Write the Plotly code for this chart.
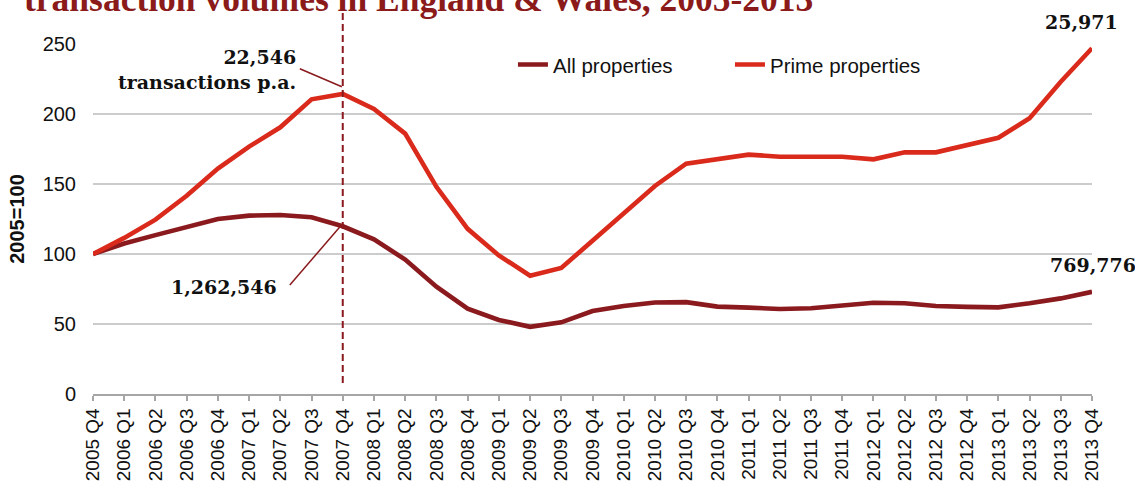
import plotly.graph_objects as go

# ---------------- data ----------------
quarters = [
    "2005 Q4", "2006 Q1", "2006 Q2", "2006 Q3", "2006 Q4",
    "2007 Q1", "2007 Q2", "2007 Q3", "2007 Q4",
    "2008 Q1", "2008 Q2", "2008 Q3", "2008 Q4",
    "2009 Q1", "2009 Q2", "2009 Q3", "2009 Q4",
    "2010 Q1", "2010 Q2", "2010 Q3", "2010 Q4",
    "2011 Q1", "2011 Q2", "2011 Q3", "2011 Q4",
    "2012 Q1", "2012 Q2", "2012 Q3", "2012 Q4",
    "2013 Q1", "2013 Q2", "2013 Q3", "2013 Q4",
]
all_properties = [
    100, 107.5, 113.5, 119.5, 125,
    127.4, 127.9, 126.2, 119.8,
    110.5, 96, 76.7, 61,
    52.9, 48, 51.2, 59.3,
    62.9, 65.4, 65.6, 62.4,
    61.7, 60.7, 61.2, 62.9,
    65.2, 64.8, 62.9, 62.2,
    61.9, 64.8, 68.3, 73,
]
prime_properties = [
    100, 111.5, 124.5, 141.6, 161,
    176.7, 190.5, 210.5, 214.3,
    203.6, 186, 148, 118,
    99, 84.5, 90, 109.5,
    129.5, 148.6, 164.5, 167.6,
    171, 169.5, 169.5, 169.5,
    167.6, 172.6, 172.6, 177.4,
    183, 197, 223, 247,
]
y_ticks = [0, 50, 100, 150, 200, 250]
title_text = "transaction volumes in England &amp; Wales, 2005-2013"
peak_label = "22,546<br>transactions p.a."
all_peak_label = "1,262,546"
prime_end_label = "25,971"
all_end_label = "769,776"
marker_quarter = "2007 Q4"

# ---------------- styling ----------------
W, H = 1135, 488
PL, PR, PT, PB = 93.3, 1091.7, 44.3, 394.0
DARK = "#8a1a1d"
RED = "#da2a1c"
GRID = "#cccccc"
AXIS = "#a6a6a6"
SANS = "Liberation Sans, Arial, sans-serif"
SERIF = "DejaVu Serif, Georgia, serif"


def px(x):
    return (x - PL) / (PR - PL)


def py(y):
    return (PB - y) / (PB - PT)


fig = go.Figure()
fig.add_trace(go.Scatter(
    x=quarters, y=all_properties, mode="lines", name="All properties",
    line=dict(color=DARK, width=4.6), cliponaxis=False,
))
fig.add_trace(go.Scatter(
    x=quarters, y=prime_properties, mode="lines", name="Prime properties",
    line=dict(color=RED, width=4.6), cliponaxis=False,
))

# vertical dashed marker
fig.add_shape(type="line", xref="x", yref="paper",
              x0=marker_quarter, x1=marker_quarter, y0=py(383), y1=py(10),
              line=dict(color=DARK, width=2, dash="7px,4px"))
# connector lines
fig.add_shape(type="line", xref="paper", yref="paper",
              x0=px(300), y0=py(69), x1=px(342), y1=py(87),
              line=dict(color=DARK, width=1.5))
fig.add_shape(type="line", xref="paper", yref="paper",
              x0=px(290), y0=py(285), x1=px(341), y1=py(226),
              line=dict(color=DARK, width=1.5))

ann_font = dict(family=SERIF, size=19, color="#111111")
fig.add_annotation(text="<b>" + peak_label.replace("<br>", "</b><br><b>") + "</b>",
                   xref="paper", yref="paper", x=px(298), y=py(70),
                   xanchor="right", yanchor="middle", align="right",
                   showarrow=False, font=ann_font)
fig.add_annotation(text="<b>" + all_peak_label + "</b>", xref="paper", yref="paper",
                   x=px(224.5), y=py(287), xanchor="center", yanchor="middle",
                   showarrow=False, font=ann_font)
fig.add_annotation(text="<b>" + prime_end_label + "</b>", xref="paper", yref="paper",
                   x=px(1081), y=py(22), xanchor="center", yanchor="middle",
                   showarrow=False, font=ann_font)
fig.add_annotation(text="<b>" + all_end_label + "</b>", xref="paper", yref="paper",
                   x=px(1093), y=py(265), xanchor="center", yanchor="middle",
                   showarrow=False, font=ann_font)
# (cropped) title
fig.add_annotation(text="<b>" + title_text + "</b>", xref="paper", yref="paper",
                   x=px(22), y=py(-1), xanchor="left", yanchor="middle",
                   showarrow=False,
                   font=dict(family="Liberation Serif, Times New Roman, serif",
                             size=35.5, color="#8b1a1a"))

fig.update_layout(
    width=W, height=H,
    margin=dict(l=PL, r=W - PR, t=PT, b=H - PB, pad=0),
    paper_bgcolor="white", plot_bgcolor="white",
    font=dict(family=SANS, size=20, color="#111111"),
    showlegend=True,
    legend=dict(orientation="h", x=px(513), y=py(65), xanchor="left",
                yanchor="middle", bgcolor="rgba(0,0,0,0)",
                font=dict(family=SANS, size=20.5, color="#111111"),
                entrywidth=172, entrywidthmode="pixels"),
    xaxis=dict(type="category", range=[0, len(quarters) - 1],
               tickangle=-90, ticks="outside", ticklen=5, tickwidth=1.5,
               tickcolor=AXIS, showline=True, linecolor=AXIS, linewidth=1.5,
               showgrid=False, automargin=False,
               tickfont=dict(family=SANS, size=19, color="#111111")),
    yaxis=dict(range=[0, 250], tickvals=y_ticks, showgrid=True,
               gridcolor=GRID, gridwidth=1.5, zeroline=False, showline=False,
               ticks="", automargin=False, ticklabelstandoff=16,
               tickfont=dict(family=SANS, size=20, color="#111111"),
               title=dict(text="<b>2005=100</b>", standoff=12,
                          font=dict(family=SANS, size=20, color="#111111"))),
)

fig.write_html("out.html")
